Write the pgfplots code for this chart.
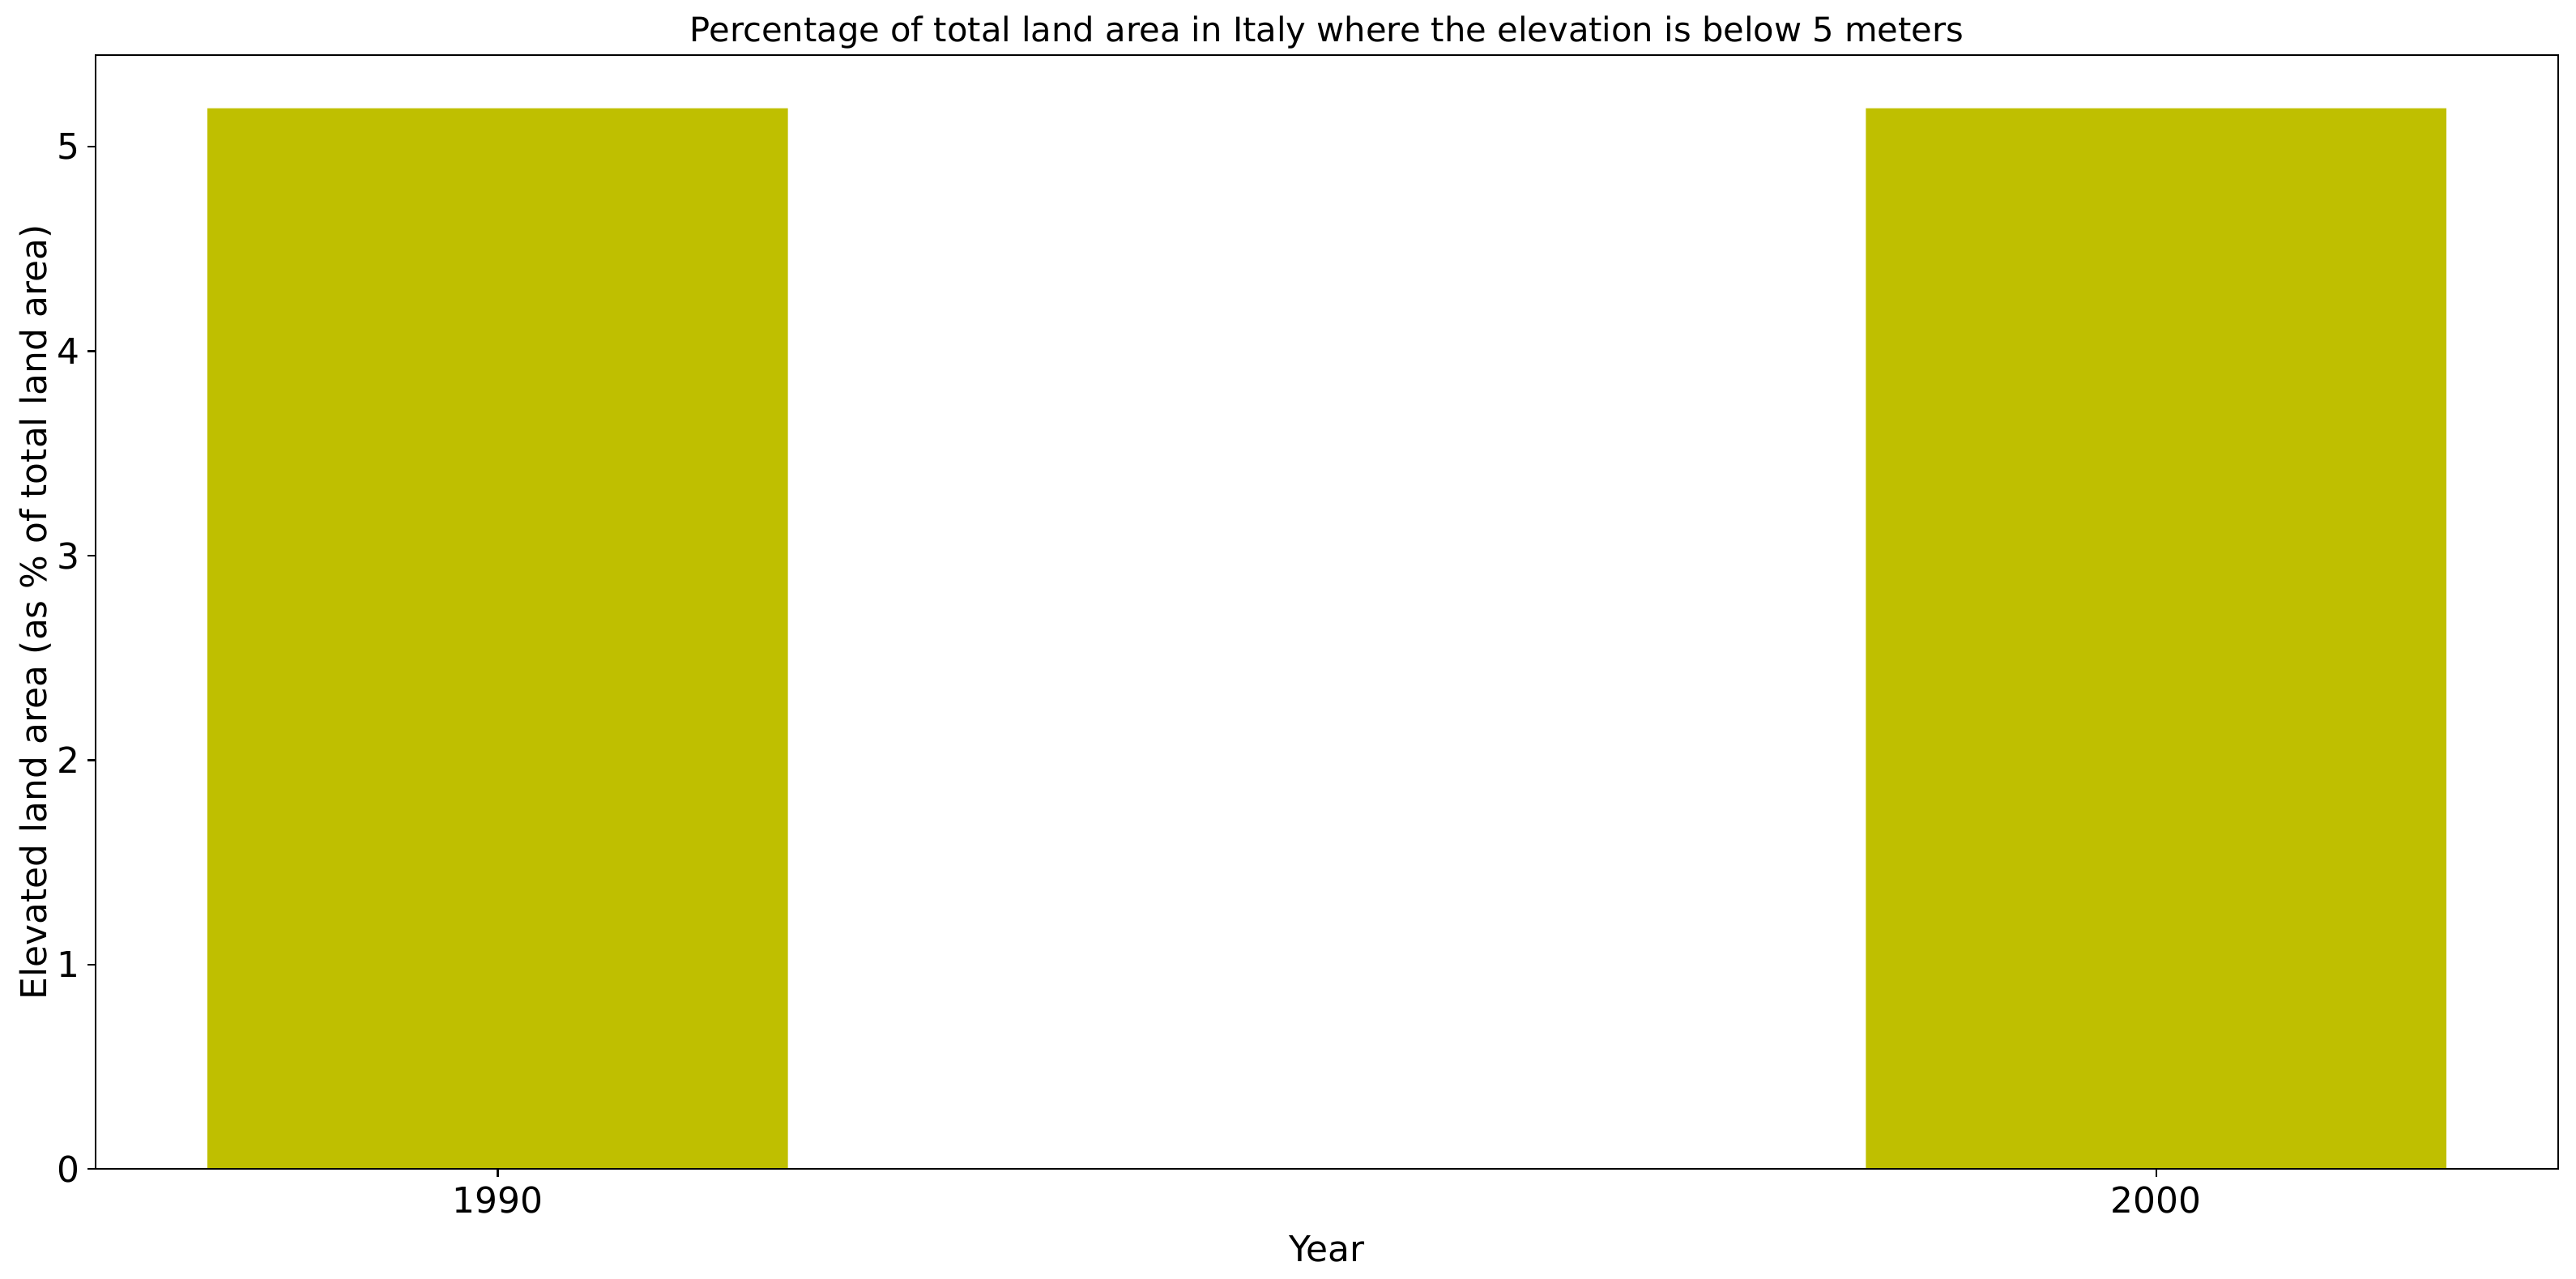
\documentclass[border=0pt]{standalone}
\usepackage{pgfplots}
\pgfplotsset{compat=1.18}
\usepackage{fontspec}
\setmainfont{DejaVu Sans}
\definecolor{baryellow}{HTML}{BFBF00}
\begin{document}
\begin{tikzpicture}
\path[use as bounding box] (-42.5pt,-48.6pt) rectangle (1102.3pt,519.6pt);
\begin{axis}[
  at={(0,0)}, anchor=south west,
  scale only axis, width=1094.4pt, height=495pt,
  xmin=1987.575, xmax=2002.425, ymin=0, ymax=5.447,
  xtick={1990,2000}, ytick={0,1,2,3,4,5},
  xticklabels={1990,2000},
  /pgf/number format/assume math mode=true,
  tick align=outside, major tick length=3.5pt,
  tick style={black, line width=0.8pt},
  axis line style={black, line width=0.8pt},
  xtick pos=bottom, ytick pos=left,
  tick label style={font=\fontsize{15.8}{18}\selectfont},
  x tick label style={anchor=north, inner sep=0pt, yshift=-4pt},
  y tick label style={anchor=east, inner sep=0pt, xshift=-3.5pt},
  title={Percentage of total land area in Italy where the elevation is below 5 meters},
  title style={font=\fontsize{15}{17}\selectfont, anchor=base, inner sep=0pt, at={(0.5,1)}},
  xlabel={Year},
  ylabel={Elevated land area (as \% of total land area)},
  label style={font=\fontsize{15.8}{18}\selectfont},
  xlabel style={inner sep=0pt, anchor=north, at={(0.5,0)}, yshift=-29.5pt},
  ylabel style={inner sep=0pt, anchor=south, at={(0,0.5)}, yshift=19.5pt},
  axis on top,
]
\addplot[ybar, bar width=3.5, fill=baryellow, draw=none] coordinates {(1990,5.188) (2000,5.188)};
\end{axis}
\end{tikzpicture}
\end{document}
